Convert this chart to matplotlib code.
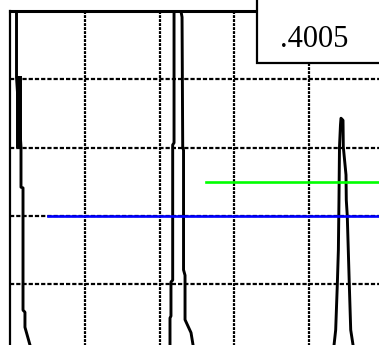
import matplotlib
matplotlib.use('Agg')
import matplotlib.pyplot as plt
from matplotlib.patches import Rectangle

# trace data (divisions; x grid 0..5, y grid 0..5, top edge = 5)
left_x = [0.087, 0.087, 0.147, 0.147, 0.174, 0.174, 0.20, 0.20, 0.267, 0.307]
left_y = [5.16, 4.03, 3.01, 2.42, 2.41, 0.62, 0.59, 0.37, 0.11, -0.04]
burst_x = [0.12, 0.12]
burst_y = [4.05, 3.0]

mid_x = [2.139, 2.139, 2.152, 2.152, 2.175, 2.175, 2.193, 2.193, 2.219,
         2.259, 2.30, 2.309, 2.32, 2.32, 2.34, 2.34, 2.42, 2.447, 2.46]
mid_y = [-0.11, 0.505, 0.534, 1.032, 1.06, 3.04, 3.07, 5.16, 5.31,
         5.16, 4.91, 3.01, 2.96, 1.21, 1.13, 0.48, 0.29, 0.11, -0.11]

right_x = [4.318, 4.332, 4.354, 4.376, 4.39, 4.398, 4.405, 4.418, 4.425,
           4.452, 4.456, 4.492, 4.496, 4.509, 4.536, 4.555, 4.586, 4.599]
right_y = [-0.11, 0.11, 0.33, 1.00, 1.50, 2.23, 3.01, 3.33, 3.43,
           3.40, 3.01, 2.60, 2.23, 2.00, 1.00, 0.33, 0.11, -0.11]

blue_level, blue_start = 2.0, 0.51
green_level, green_start = 2.5, 2.62
readout = '.4005'

fig = plt.figure(figsize=(3.79, 3.45), dpi=100)
ax = fig.add_axes([10 / 379, 1 - 352.5 / 345, 374 / 379, 341.5 / 345])
ax.set_xlim(0, 5)
ax.set_ylim(0, 5)

ax.set_xticks([1, 2, 3, 4])
ax.set_yticks([1, 2, 3, 4])
ax.tick_params(length=0, labelbottom=False, labelleft=False)
# vertical grid: short dots, horizontal grid: longer dashes
ax.xaxis.grid(True, color='black', linewidth=1.6, linestyle=(0, (1.3, 0.5)))
ax.yaxis.grid(True, color='black', linewidth=1.6, linestyle=(0, (1.9, 0.9)))
ax.set_axisbelow(True)

for side in ['right', 'bottom']:
    ax.spines[side].set_visible(False)
ax.spines['top'].set_linewidth(2.2)
ax.spines['left'].set_linewidth(1.6)

kw = dict(color='black', linewidth=2.1, solid_joinstyle='round', zorder=3)
ax.plot(left_x, left_y, **kw)
ax.plot(burst_x, burst_y, color='black', linewidth=4.3, solid_capstyle='butt', zorder=3)
ax.plot(mid_x, mid_y, **kw)
ax.plot(right_x, right_y, **kw)

ax.plot([blue_start, 6], [blue_level, blue_level], color='#0000ff', linewidth=1.9, zorder=4)
ax.plot([green_start, 6], [green_level, green_level], color='#00ff00', linewidth=1.9, zorder=4)

ax.add_patch(Rectangle((3.30, 4.24), 3.0, 1.0, facecolor='white', edgecolor='black',
                       linewidth=1.6, zorder=5, clip_on=False))
ax.text(4.06, 4.58, readout, ha='center', va='center', fontsize=22,
        family='Liberation Serif', zorder=6)

fig.savefig('out.png', dpi=100)
